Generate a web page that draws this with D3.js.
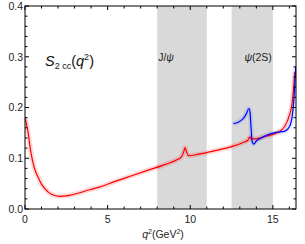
<!DOCTYPE html>
<html>
<head>
<meta charset="utf-8">
<script src="https://cdn.jsdelivr.net/npm/d3@7"></script>
<style>
  body { margin: 0; background: #fff; }
  text { font-family: "Liberation Sans", Arial, sans-serif; }
</style>
</head>
<body>
<div id="chart"></div>
<script>
// red curve (q^2, S2cc)
const redQ = [0, 0.1, 0.2, 0.3, 0.4, 0.5, 0.65, 0.8, 1.0, 1.2, 1.6, 2.1, 2.7, 3.3, 3.9, 4.5, 5.5, 6.5, 7.5, 8.5, 9.2, 9.45, 9.6, 9.68, 9.78, 9.9, 10.5, 11.5, 12.5, 13.2, 13.5, 13.6, 13.7, 13.9, 14.5, 15.0, 15.5, 15.7, 16.03, 16.15, 16.23, 16.33]
const redS = [0.180, 0.166, 0.148, 0.124, 0.104, 0.089, 0.073, 0.062, 0.049, 0.040, 0.029, 0.025, 0.027, 0.032, 0.038, 0.043, 0.055, 0.066, 0.077, 0.088, 0.097, 0.102, 0.112, 0.121, 0.112, 0.105, 0.108, 0.115, 0.123, 0.131, 0.136, 0.142, 0.138, 0.138, 0.143, 0.147, 0.155, 0.162, 0.188, 0.205, 0.228, 0.27]
// blue curve
const blueQ = [12.6, 12.9, 13.2, 13.4, 13.55, 13.62, 13.68, 13.75, 13.85, 14.0, 14.3, 14.7, 15.2, 15.7, 16.0, 16.2, 16.3, 16.38]
const blueS = [0.168, 0.171, 0.178, 0.188, 0.198, 0.19, 0.16, 0.132, 0.128, 0.134, 0.140, 0.146, 0.151, 0.153, 0.162, 0.19, 0.23, 0.28]
// shaded resonance windows
const bands = [[8, 11], [12.5, 15]]
const bandNames = [["J/", "\u03c8", ""], ["", "\u03c8", "(2S)"]]
const xTicks = [0, 5, 10, 15]
const yTicks = [0, 0.1, 0.2, 0.3, 0.4]

const W = 305, H = 244
const m = { left: 25, right: 9, top: 6, bottom: 35 }

const svg = d3.select('#chart').append('svg')
  .attr('width', W).attr('height', H)

const x = d3.scaleLinear().domain([0, 16.4]).range([m.left, W - m.right])
const y = d3.scaleLinear().domain([0, 0.4]).range([H - m.bottom, m.top])

svg.append('defs').append('clipPath').attr('id', 'clip')
  .append('rect')
  .attr('x', m.left).attr('y', m.top)
  .attr('width', W - m.left - m.right).attr('height', H - m.top - m.bottom)

// gray bands
svg.selectAll('.band')
  .data(bands)
  .enter()
  .append('rect')
  .attr('class', 'band')
  .attr('x', d => x(d[0]))
  .attr('width', d => x(d[1]) - x(d[0]))
  .attr('y', m.top)
  .attr('height', H - m.top - m.bottom)
  .attr('fill', '#d9d9d9')

// curves
const line = d3.line().x(d => x(d[0])).y(d => y(d[1])).curve(d3.curveMonotoneX)
const redData = redQ.map((q, i) => [q, redS[i]])
const blueData = blueQ.map((q, i) => [q, blueS[i]])

const g = svg.append('g').attr('clip-path', 'url(#clip)')
g.append('path').attr('d', line(redData)).attr('fill', 'none')
  .attr('stroke', 'rgba(255,0,0,0.15)').attr('stroke-width', 5)
g.append('path').attr('d', line(blueData)).attr('fill', 'none')
  .attr('stroke', 'rgba(0,80,255,0.12)').attr('stroke-width', 5)
g.append('path').attr('d', line(redData)).attr('fill', 'none')
  .attr('stroke', '#ff0000').attr('stroke-width', 1.2)
g.append('path').attr('d', line(blueData)).attr('fill', 'none')
  .attr('stroke', '#0000ff').attr('stroke-width', 1.2)

// axes with inward ticks, minor + major
function ticksFor(step, lo, hi) {
  const out = []
  for (let v = lo; v <= hi + 1e-9; v += step) out.push(+v.toFixed(4))
  return out
}
const xMinor = ticksFor(1, 0, 16)
const yMinor = ticksFor(0.02, 0, 0.4)

const axisG = svg.append('g').attr('stroke', '#000').attr('stroke-width', 1)
const x0 = m.left, x1 = W - m.right, y0 = H - m.bottom, y1 = m.top
xMinor.forEach(v => {
  const len = xTicks.includes(v) ? 4 : 2.5
  axisG.append('line').attr('x1', x(v)).attr('x2', x(v)).attr('y1', y0).attr('y2', y0 - len)
  axisG.append('line').attr('x1', x(v)).attr('x2', x(v)).attr('y1', y1).attr('y2', y1 + len)
})
yMinor.forEach(v => {
  const len = yTicks.some(t => Math.abs(t - v) < 1e-6) ? 4 : 2.5
  axisG.append('line').attr('y1', y(v)).attr('y2', y(v)).attr('x1', x0).attr('x2', x0 + len)
  axisG.append('line').attr('y1', y(v)).attr('y2', y(v)).attr('x1', x1).attr('x2', x1 - len)
})
axisG.append('rect').attr('x', x0).attr('y', y1)
  .attr('width', x1 - x0).attr('height', y0 - y1).attr('fill', 'none')

svg.selectAll('.xl').data(xTicks).enter().append('text')
  .attr('x', d => x(d)).attr('y', y0 + 14)
  .attr('text-anchor', 'middle').attr('font-size', 10.5).attr('fill', '#222')
  .text(d => d)
svg.selectAll('.yl').data(yTicks).enter().append('text')
  .attr('x', x0 - 2).attr('y', d => y(d) + 3.8)
  .attr('text-anchor', 'end').attr('font-size', 10.5).attr('fill', '#222')
  .text(d => d.toFixed(1))

// axis title
const xt = svg.append('text').attr('x', 163).attr('y', 238)
  .attr('text-anchor', 'middle').attr('font-size', 10.5).attr('fill', '#222')
xt.append('tspan').attr('font-style', 'italic').text('q')
xt.append('tspan').attr('font-size', 7).attr('dy', -4).text('2')
xt.append('tspan').attr('dy', 4).text('(GeV')
xt.append('tspan').attr('font-size', 7).attr('dy', -4).text('2')
xt.append('tspan').attr('dy', 4).text(')')

// band labels
bands.forEach((d, i) => {
  const t = svg.append('text')
    .attr('x', i == 0 ? x(d[0]) + 1 : x(d[1]) - 1)
    .attr('y', 61)
    .attr('text-anchor', i == 0 ? 'start' : 'end')
    .attr('font-size', 10.5).attr('fill', '#222')
  t.append('tspan').text(bandNames[i][0])
  t.append('tspan').attr('font-style', 'italic').text(bandNames[i][1])
  t.append('tspan').text(bandNames[i][2])
})

// S_2cc(q^2) label
const st = svg.append('text').attr('x', 45).attr('y', 66)
  .attr('font-size', 14.5).attr('fill', '#111')
st.append('tspan').attr('font-style', 'italic').text('S')
st.append('tspan').attr('font-size', 9).attr('dy', 3).text('2 cc')
st.append('tspan').attr('dy', -3).text('(')
st.append('tspan').attr('font-style', 'italic').text('q')
st.append('tspan').attr('font-size', 9).attr('dy', -6).text('2')
st.append('tspan').attr('dy', 6).text(')')
</script>
</body>
</html>
